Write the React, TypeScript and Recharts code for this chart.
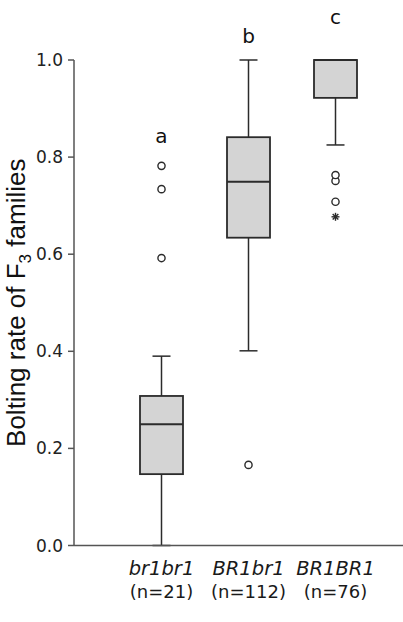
import React from 'react';
import { ComposedChart, Bar, Scatter, XAxis, YAxis, ReferenceDot } from 'recharts';

// box plot summary per genotype
const genotypes = ['br1br1', 'BR1br1', 'BR1BR1'];
const sampleSizes = ['(n=21)', '(n=112)', '(n=76)'];
const whiskerLow = [0, 0.401, 0.825];
const quartile1 = [0.147, 0.634, 0.922];
const medians = [0.25, 0.749, 1.0];
const quartile3 = [0.308, 0.841, 1.0];
const whiskerHigh = [0.39, 1.0, 1.0];
const outliers = [[0.592, 0.734, 0.782], [0.166], [0.708, 0.751, 0.763]];
const extremes = [[], [], [0.677]];
const groupLetters = ['a', 'b', 'c'];
const letterLevels = [0.83, 1.034, 1.074];
const yTicks = [0, 0.2, 0.4, 0.6, 0.8, 1.0];

const data = genotypes.map((name, i) => ({
    name,
    wLo: whiskerLow[i],
    q1: quartile1[i],
    med: medians[i],
    q3: quartile3[i],
    wHi: whiskerHigh[i],
    o1: outliers[i][0] ?? null,
    o2: outliers[i][1] ?? null,
    o3: outliers[i][2] ?? null,
    ext: extremes[i][0] ?? null,
}));

const INK = '#2b2b2b';
const AXIS = '#555';

function BoxShape(props: any) {
    const { x, y, width, height, payload } = props;
    const { wLo, q1, med, q3, wHi } = payload;
    const top = Math.min(y, y + height);
    const k = Math.abs(height) / (wHi - wLo);
    const py = (v: number) => top + (wHi - v) * k;
    const cx = x + width / 2;
    const cap = 9;
    return (
        <g stroke={INK} strokeWidth={1.5}>
            <line x1={cx} x2={cx} y1={py(wHi)} y2={py(q3)} />
            <line x1={cx} x2={cx} y1={py(q1)} y2={py(wLo)} />
            <line x1={cx - cap} x2={cx + cap} y1={py(wHi)} y2={py(wHi)} />
            <line x1={cx - cap} x2={cx + cap} y1={py(wLo)} y2={py(wLo)} />
            <rect x={x} y={py(q3)} width={width} height={py(q1) - py(q3)} fill="#d4d4d4" strokeWidth={1.8} />
            <line x1={x} x2={x + width} y1={py(med)} y2={py(med)} strokeWidth={2} />
        </g>
    );
}

function makeOutlier(key: string) {
    return (props: any) => {
        const { cx, cy, payload } = props;
        if (payload[key] == null || !Number.isFinite(cy)) return <g />;
        return <circle cx={cx} cy={cy} r={3.6} fill="#fff" stroke={INK} strokeWidth={1.4} />;
    };
}

function Asterisk(props: any) {
    const { cx, cy, payload } = props;
    if (payload.ext == null || !Number.isFinite(cy)) return <g />;
    const r = 4;
    return (
        <g stroke={INK} strokeWidth={1.4}>
            <line x1={cx - r} x2={cx + r} y1={cy} y2={cy} />
            <line x1={cx} x2={cx} y1={cy - r} y2={cy + r} />
            <line x1={cx - r * 0.7} x2={cx + r * 0.7} y1={cy - r * 0.7} y2={cy + r * 0.7} />
            <line x1={cx - r * 0.7} x2={cx + r * 0.7} y1={cy + r * 0.7} y2={cy - r * 0.7} />
        </g>
    );
}

function GenotypeTick(props: any) {
    const { x, y, payload, index } = props;
    return (
        <g fontFamily="'DejaVu Sans', sans-serif" fill="#1a1a1a" textAnchor="middle">
            <text x={x} y={y + 29} fontSize={19.5} fontStyle="italic">{payload.value}</text>
            <text x={x} y={y + 52} fontSize={18}>{sampleSizes[index]}</text>
        </g>
    );
}

function AxisTitle(props: any) {
    const { viewBox } = props;
    const cx = viewBox.x + 25;
    const cy = viewBox.y + viewBox.height / 2;
    return (
        <text
            x={cx}
            y={cy}
            transform={`rotate(-90, ${cx}, ${cy})`}
            textAnchor="middle"
            fontFamily="'Liberation Sans', Arial, sans-serif"
            fontSize={26}
            fill="#111"
        >
            Bolting rate of F
            <tspan fontSize={17} dy={6}>3</tspan>
            <tspan dy={-6}> families</tspan>
        </text>
    );
}

export default function App() {
    return (
        <div style={{ position: 'absolute', left: 0, top: 0, background: '#fff' }}>
            <ComposedChart
                width={403}
                height={622}
                data={data}
                margin={{ top: 60, right: 0, bottom: 16.5, left: 0 }}
            >
                <XAxis
                    dataKey="name"
                    interval={0}
                    padding={{ left: 44, right: 24 }}
                    height={60}
                    tickLine={false}
                    tickSize={0}
                    tickMargin={0}
                    axisLine={{ stroke: AXIS, strokeWidth: 1.5 }}
                    tick={<GenotypeTick />}
                />
                <YAxis
                    type="number"
                    domain={[0, 1]}
                    ticks={yTicks}
                    width={74}
                    tickSize={6}
                    tickMargin={5}
                    tickFormatter={(v: number) => v.toFixed(1)}
                    axisLine={{ stroke: AXIS, strokeWidth: 1.5 }}
                    tickLine={{ stroke: AXIS, strokeWidth: 1.5 }}
                    tick={{ fill: '#222', fontSize: 17, fontFamily: "'DejaVu Sans', sans-serif" }}
                    label={<AxisTitle />}
                />
                <Bar
                    dataKey={(d: any) => [d.wLo, d.wHi]}
                    barSize={43}
                    shape={<BoxShape />}
                    isAnimationActive={false}
                />
                <Scatter dataKey="o1" shape={makeOutlier('o1')} isAnimationActive={false} />
                <Scatter dataKey="o2" shape={makeOutlier('o2')} isAnimationActive={false} />
                <Scatter dataKey="o3" shape={makeOutlier('o3')} isAnimationActive={false} />
                <Scatter dataKey="ext" shape={<Asterisk />} isAnimationActive={false} />
                {genotypes.map((g, i) => (
                    <ReferenceDot
                        key={g}
                        x={g}
                        y={letterLevels[i]}
                        r={0}
                        ifOverflow="visible"
                        shape={(p: any) => (
                            <text
                                x={p.cx}
                                y={p.cy}
                                textAnchor="middle"
                                fontFamily="'DejaVu Sans', sans-serif"
                                fontSize={20}
                                fill="#111"
                            >
                                {groupLetters[i]}
                            </text>
                        )}
                    />
                ))}
            </ComposedChart>
        </div>
    );
}
